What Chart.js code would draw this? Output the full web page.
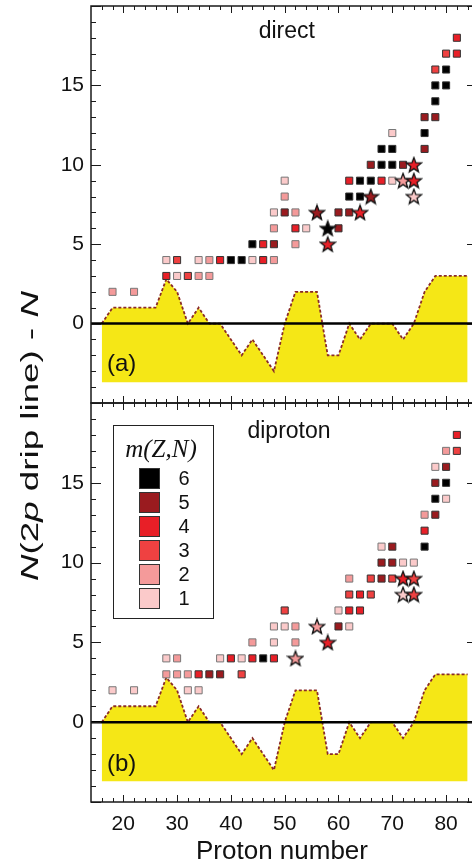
<!DOCTYPE html>
<html>
<head>
<meta charset="utf-8">
<script src="https://cdn.jsdelivr.net/npm/chart.js@4.4.0/dist/chart.umd.min.js"></script>
<style>
    html, body { margin: 0; padding: 0; background: #fff; overflow: hidden; }
    #wrap { position: relative; width: 472px; height: 867px; overflow: hidden; }
    canvas { position: absolute; left: 0; top: 0; }
</style>
</head>
<body>
<div id="wrap">
    <canvas id="direct-chart" width="480" height="867"></canvas>
    <canvas id="diproton-chart" width="480" height="867"></canvas>
</div>
<script>
// colours for m(Z,N) = 1..6
const mColors = ['#fbcaca', '#f49a9a', '#ef4141', '#e81f27', '#9a1b1f', '#000000']
const legendLevels = [6, 5, 4, 3, 2, 1]

// axes
const xMin = 14, xMax = 85
const yMin = -5, yMax = 20
const xTickValues = [20, 30, 40, 50, 60, 70, 80]
const yTickValues = [0, 5, 10, 15]

// yellow region (same in both panels)
const dripZ = [16, 18, 26, 28, 30, 32, 34, 36, 38, 42, 44, 48, 50, 52, 56, 58, 60, 62, 64, 66, 70, 72, 74, 76, 78, 84]
const dripN = [0, 1, 1, 2.8, 2, 0, 1, 0, 0, -2, -1, -3, 0, 2, 2, -2, -2, 0, -1, 0, 0, -1, 0, 2, 3, 3]
const dripBase = -3.7

// (a) direct
const directZ = [
    18, 22,
    28, 30, 32, 34, 36,
    28, 30, 34, 36, 38, 40, 42, 44, 46, 48,
    44, 46, 48, 52,
    48, 52, 54, 60,
    48, 50, 52, 60, 62,
    50, 62, 64,
    50, 62, 64, 66, 68, 70,
    66, 68, 70, 72,
    68, 70, 76,
    70, 76,
    76, 78,
    78,
    78, 80,
    78, 80,
    80, 82,
    82]
const directN = [
    2, 2,
    3, 3, 3, 3, 3,
    4, 4, 4, 4, 4, 4, 4, 4, 4, 4,
    5, 5, 5, 5,
    6, 6, 6, 6,
    7, 7, 7, 7, 7,
    8, 8, 8,
    9, 9, 9, 9, 9, 9,
    10, 10, 10, 10,
    11, 11, 11,
    12, 12,
    13, 13,
    14,
    15, 15,
    16, 16,
    17, 17,
    18]
const directM = [
    2, 2,
    4, 1, 3, 2, 2,
    1, 3, 1, 2, 4, 6, 6, 1, 4, 2,
    6, 4, 5, 2,
    2, 4, 1, 5,
    1, 5, 2, 5, 5,
    2, 6, 6,
    1, 4, 6, 6, 4, 1,
    5, 6, 6, 5,
    6, 6, 5,
    1, 6,
    5, 5,
    6,
    6, 6,
    3, 6,
    3, 4,
    4]
const directStarZ = [58, 58, 56, 64, 66, 74, 72, 74, 74]
const directStarN = [5, 6, 7, 7, 8, 8, 9, 9, 10]
const directStarM = [4, 6, 5, 4, 5, 1, 2, 4, 4]

// (b) diproton
const diprotonZ = [
    18, 22, 32, 34,
    28, 30, 32, 34, 36, 38, 42,
    28, 30, 38, 40, 42, 44, 46, 48,
    44, 48, 52,
    48, 50, 52, 60, 62,
    50, 60, 62, 64,
    62, 64, 66,
    62, 66, 68, 70,
    68, 70, 72, 74,
    68, 70, 76,
    76,
    76, 78,
    78, 80,
    78, 80,
    78, 80,
    80, 82,
    82]
const diprotonN = [
    2, 2, 2, 2,
    3, 3, 3, 3, 3, 3, 3,
    4, 4, 4, 4, 4, 4, 4, 4,
    5, 5, 5,
    6, 6, 6, 6, 6,
    7, 7, 7, 7,
    8, 8, 8,
    9, 9, 9, 9,
    10, 10, 10, 10,
    11, 11, 11,
    12,
    13, 13,
    14, 14,
    15, 15,
    16, 16,
    17, 17,
    18]
const diprotonM = [
    1, 1, 1, 1,
    2, 2, 2, 4, 5, 5, 3,
    1, 2, 1, 4, 1, 4, 6, 4,
    2, 1, 2,
    1, 1, 2, 5, 1,
    3, 1, 4, 4,
    3, 4, 3,
    2, 3, 5, 3,
    5, 5, 1, 1,
    1, 5, 6,
    4,
    2, 5,
    6, 1,
    5, 6,
    1, 5,
    2, 3,
    4]
const diprotonStarZ = [52, 58, 56, 72, 74, 72, 74]
const diprotonStarN = [4, 5, 6, 8, 8, 9, 9]
const diprotonStarM = [2, 4, 2, 1, 3, 4, 3]

const textColor = '#111'
const sans = '"Liberation Sans", Arial, sans-serif'
Chart.defaults.font.family = sans
Chart.defaults.color = textColor

function points(zs, ns) {
    return zs.map((z, i) => ({ x: z, y: ns[i] }))
}

function makeStar(fill) {
    const c = document.createElement('canvas')
    c.width = 18
    c.height = 18
    const g = c.getContext('2d')
    g.beginPath()
    for (let k = 0; k < 10; k++) {
        const r = k % 2 === 0 ? 7.8 : 3.3
        const a = -Math.PI / 2 + k * Math.PI / 5
        g.lineTo(9 + r * Math.cos(a), 9.6 + r * Math.sin(a))
    }
    g.closePath()
    g.fillStyle = fill
    g.fill()
    g.lineWidth = 1.3
    g.strokeStyle = '#111'
    g.stroke()
    return c
}
const starImages = mColors.map(makeStar)

function panelDatasets(sqZ, sqN, sqM, stZ, stN, stM) {
    return [
        {
            type: 'line',
            data: points(dripZ, dripN),
            fill: { value: dripBase },
            backgroundColor: '#f5e716',
            borderColor: '#8a2b28',
            borderWidth: 1.8,
            borderDash: [3, 2],
            pointRadius: 0,
            tension: 0,
            order: 4
        },
        {
            type: 'line',
            data: [{ x: xMin, y: 0 }, { x: xMax, y: 0 }],
            borderColor: '#000',
            borderWidth: 2.5,
            pointRadius: 0,
            fill: false,
            order: 3
        },
        {
            data: points(sqZ, sqN),
            pointStyle: 'rect',
            pointRadius: 5,
            backgroundColor: sqM.map(m => mColors[m - 1]),
            borderColor: sqM.map(m => m <= 2 ? '#777' : '#333'),
            borderWidth: 1,
            order: 2
        },
        {
            data: points(stZ, stN),
            pointStyle: stM.map(m => starImages[m - 1]),
            order: 1
        }
    ]
}

// box with inward ticks on every side
const framePlugin = {
    id: 'frame',
    afterDraw(chart) {
        const { ctx, chartArea: a, scales: { x, y } } = chart
        ctx.save()
        ctx.strokeStyle = '#1a1a1a'
        ctx.lineWidth = 1
        const line = (x1, y1, x2, y2) => {
            ctx.beginPath()
            ctx.moveTo(x1, y1)
            ctx.lineTo(x2, y2)
            ctx.stroke()
        }
        for (let v = yMin; v <= yMax; v++) {
            const py = Math.round(y.getPixelForValue(v)) + 0.5
            const major = v % 5 === 0
            line(a.left, py, a.left + (major ? 10 : 5), py)
            if (major) line(a.right - 6, py, a.right, py)
        }
        for (let v = 16; v <= 84; v += 2) {
            const px = Math.round(x.getPixelForValue(v)) + 0.5
            const len = v % 10 === 0 ? 7 : 4
            line(px, a.top, px, a.top + len)
            line(px, a.bottom, px, a.bottom - len)
        }
        ctx.lineWidth = 1.5
        ctx.strokeRect(a.left, a.top, a.right - a.left, a.bottom - a.top)
        ctx.restore()
    }
}

// panel name and tag
const panelTextPlugin = {
    id: 'panelText',
    afterDraw(chart, args, opts) {
        const { ctx, scales: { x, y } } = chart
        ctx.save()
        ctx.fillStyle = textColor
        ctx.textAlign = 'center'
        ctx.textBaseline = 'alphabetic'
        ctx.font = '23px ' + sans
        ctx.fillText(opts.name, x.getPixelForValue(opts.nameAt[0]), y.getPixelForValue(opts.nameAt[1]))
        ctx.font = '24px ' + sans
        ctx.fillText(opts.tag, x.getPixelForValue(opts.tagAt[0]), y.getPixelForValue(opts.tagAt[1]))
        ctx.restore()
    }
}

// m(Z,N) key
const keyPlugin = {
    id: 'mKey',
    afterDraw(chart) {
        const { ctx, chartArea: a } = chart
        const left = a.left + 22, top = a.top + 22
        ctx.save()
        ctx.fillStyle = '#fff'
        ctx.fillRect(left, top, 100, 193)
        ctx.strokeStyle = '#222'
        ctx.lineWidth = 1
        ctx.strokeRect(left + 0.5, top + 0.5, 100, 193)
        ctx.fillStyle = textColor
        ctx.textAlign = 'center'
        ctx.textBaseline = 'alphabetic'
        ctx.font = 'italic 25px "Liberation Serif", "Times New Roman", serif'
        ctx.fillText('m(Z,N)', left + 48, top + 32)
        ctx.font = '20px ' + sans
        ctx.textBaseline = 'middle'
        legendLevels.forEach((m, i) => {
            const sy = top + 43 + i * 24
            ctx.fillStyle = mColors[m - 1]
            ctx.fillRect(left + 26, sy, 20, 20)
            ctx.strokeStyle = '#333'
            ctx.strokeRect(left + 26.5, sy + 0.5, 20, 20)
            ctx.fillStyle = textColor
            ctx.fillText(String(m), left + 71, sy + 11)
        })
        ctx.restore()
    }
}

// shared y title
const yTitlePlugin = {
    id: 'yTitle',
    afterDraw(chart) {
        const { ctx } = chart
        const parts = [['N', true], ['(2', false], ['p', true], [' drip line) - ', false], ['N', true]]
        const upright = '23px ' + sans
        const italic = 'italic 23px ' + sans
        ctx.save()
        let total = 0
        parts.forEach(p => {
            ctx.font = p[1] ? italic : upright
            total += ctx.measureText(p[0]).width
        })
        const target = 290
        ctx.translate(32, 436)
        ctx.rotate(-Math.PI / 2)
        ctx.scale(target / total, 1)
        ctx.fillStyle = textColor
        ctx.textBaseline = 'middle'
        ctx.textAlign = 'left'
        let cx = -total / 2
        parts.forEach(p => {
            ctx.font = p[1] ? italic : upright
            ctx.fillText(p[0], cx, 0)
            cx += ctx.measureText(p[0]).width
        })
        ctx.restore()
    }
}

function makeOptions(isBottom, name, nameAt, tag, tagAt) {
    return {
        responsive: false,
        animation: false,
        events: [],
        layout: {
            padding: isBottom
                ? { top: 403, right: 7, left: 0, bottom: 0 }
                : { top: 6, right: 7, left: 0, bottom: 464 }
        },
        plugins: {
            legend: { display: false },
            tooltip: { enabled: false },
            panelText: { name: name, nameAt: nameAt, tag: tag, tagAt: tagAt }
        },
        scales: {
            x: {
                type: 'linear',
                min: xMin,
                max: xMax,
                display: isBottom,
                grid: { display: false, drawTicks: false },
                border: { display: false },
                afterBuildTicks: s => { s.ticks = xTickValues.map(v => ({ value: v })) },
                afterFit: s => {
                    s.height = isBottom ? 65 : 0
                    s.paddingLeft = 0
                    s.paddingRight = 0
                },
                ticks: { font: { size: 21 }, color: textColor, padding: 10, maxRotation: 0 },
                title: {
                    display: true,
                    text: 'Proton number',
                    font: { size: 26 },
                    color: textColor,
                    padding: 0
                }
            },
            y: {
                type: 'linear',
                min: yMin,
                max: yMax,
                grid: { display: false, drawTicks: false },
                border: { display: false },
                afterBuildTicks: s => { s.ticks = yTickValues.map(v => ({ value: v })) },
                afterFit: s => {
                    s.width = 91
                    s.paddingTop = 0
                    s.paddingBottom = 0
                },
                ticks: { font: { size: 21 }, color: textColor, padding: 7 }
            }
        }
    }
}

new Chart(document.querySelector('#direct-chart').getContext('2d'), {
    type: 'scatter',
    data: { datasets: panelDatasets(directZ, directN, directM, directStarZ, directStarN, directStarM) },
    options: makeOptions(false, 'direct', [50.4, 18], '(a)', [19.7, -3]),
    plugins: [framePlugin, panelTextPlugin]
})

new Chart(document.querySelector('#diproton-chart').getContext('2d'), {
    type: 'scatter',
    data: { datasets: panelDatasets(diprotonZ, diprotonN, diprotonM, diprotonStarZ, diprotonStarN, diprotonStarM) },
    options: makeOptions(true, 'diproton', [50.8, 17.8], '(b)', [19.7, -3.05]),
    plugins: [framePlugin, panelTextPlugin, keyPlugin, yTitlePlugin]
})
</script>
</body>
</html>
